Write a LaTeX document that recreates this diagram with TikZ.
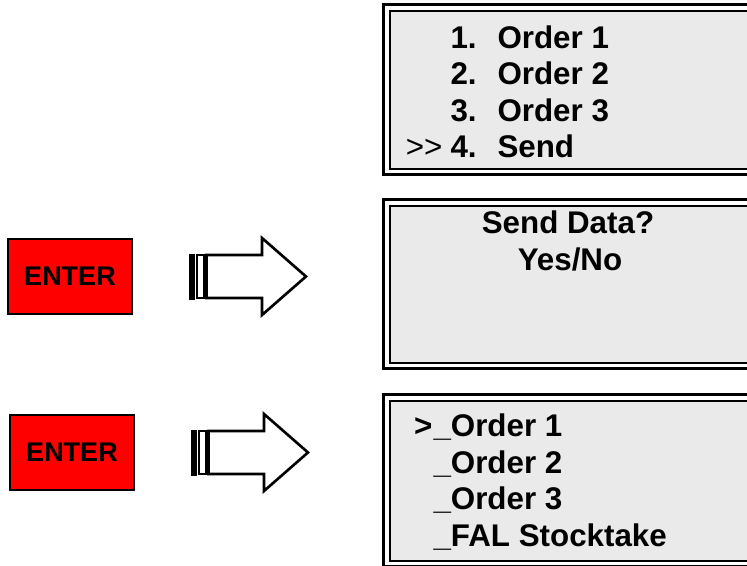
\documentclass[tikz,border=0pt]{standalone}
\usepackage{fontspec}
\setmainfont{Liberation Sans}
\tikzset{every picture/.style={line width=0.75pt}}
\tikzset{
  enterkey/.style={draw, fill={rgb, 255:red, 255; green, 0; blue, 0 }, line width=1.5, minimum width=93pt, minimum height=56.25pt, inner sep=0pt, font=\bfseries\fontsize{20.25}{24}\selectfont},
  lcdtext/.style={inner sep=0pt, font=\bfseries\fontsize{23.5}{28}\selectfont},
  lcdplain/.style={inner sep=0pt, font=\fontsize{23.5}{28}\selectfont},
  blockarrow/.style={draw, fill=white, line width=1.5, line join=miter}
}

\begin{document}
\begin{tikzpicture}[x=0.75pt,y=0.75pt,yscale=-1,xscale=1]
		\useasboundingbox (0,0) rectangle (747,565);
		\clip (0,0) rectangle (747,565);

		%Shape: Screen 1
		\draw [line width=2.25, fill=white] (383.5,4.5) rectangle (760,174.5);
		\draw [line width=1.5, fill={rgb, 255:red, 234; green, 234; blue, 234 }] (389.5,10.5) rectangle (760,168.5);
		%Shape: Screen 2
		\draw [line width=2.25, fill=white] (383.5,199.5) rectangle (760,368.5);
		\draw [line width=1.5, fill={rgb, 255:red, 234; green, 234; blue, 234 }] (389.5,205.5) rectangle (760,362.5);
		%Shape: Screen 3
		\draw [line width=2.25, fill=white] (383.5,394.5) rectangle (760,566);
		\draw [line width=1.5, fill={rgb, 255:red, 234; green, 234; blue, 234 }] (389.5,400.5) rectangle (760,560.5);

		% Text Node: menu
		\node [lcdtext, anchor=base west] (num1) at (450,48) {1.};
		\node [lcdtext, anchor=base west] (item1) at (497,48) {Order 1};
		\node [lcdtext, anchor=base west] (num2) at (450,84.5) {2.};
		\node [lcdtext, anchor=base west] (item2) at (497,84.5) {Order 2};
		\node [lcdtext, anchor=base west] (num3) at (450,121) {3.};
		\node [lcdtext, anchor=base west] (item3) at (497,121) {Order 3};
		\node [lcdplain, anchor=base east] (cursor1) at (443,157.5) {{>}{>}};
		\node [lcdtext, anchor=base west] (num4) at (450,157.5) {4.};
		\node [lcdtext, anchor=base west] (item4) at (497,157.5) {Send};

		% Text Node: question
		\node [lcdtext, anchor=base] (ask) at (568,233) {Send Data?};
		\node [lcdtext, anchor=base] (answer) at (570,270) {Yes/No};

		% Text Node: list
		\node [lcdtext, anchor=base east] (cursor2) at (433,436) {>};
		\node [lcdtext, anchor=base west] (list1) at (433,436) {\_Order 1};
		\node [lcdtext, anchor=base west] (list2) at (433,473) {\_Order 2};
		\node [lcdtext, anchor=base west] (list3) at (433,509.5) {\_Order 3};
		\node [lcdtext, anchor=base west] (list4) at (433,546) {\_FAL Stocktake};

		% Key nodes
		\node [enterkey] (enter1) at (70,276.5) {ENTER};
		\node [enterkey] (enter2) at (72,452.5) {ENTER};

		%Shape: Striped Right Arrow 1
		\draw [blockarrow, line width=2.25] (190.5,255) rectangle (193.5,298);
		\draw [blockarrow] (196.5,255) rectangle (203.5,298);
		\draw [blockarrow, line width=2] (206.5,255) -- (262,255) -- (262,238) -- (306,276.5) -- (262,315) -- (262,298) -- (206.5,298) -- cycle;
		%Shape: Striped Right Arrow 2
		\draw [blockarrow, line width=2.25] (192.5,431) rectangle (195.5,474);
		\draw [blockarrow] (198.5,431) rectangle (205.5,474);
		\draw [blockarrow, line width=2] (208.5,431) -- (264,431) -- (264,414) -- (308,452.5) -- (264,491) -- (264,474) -- (208.5,474) -- cycle;

	\end{tikzpicture}
\end{document}
